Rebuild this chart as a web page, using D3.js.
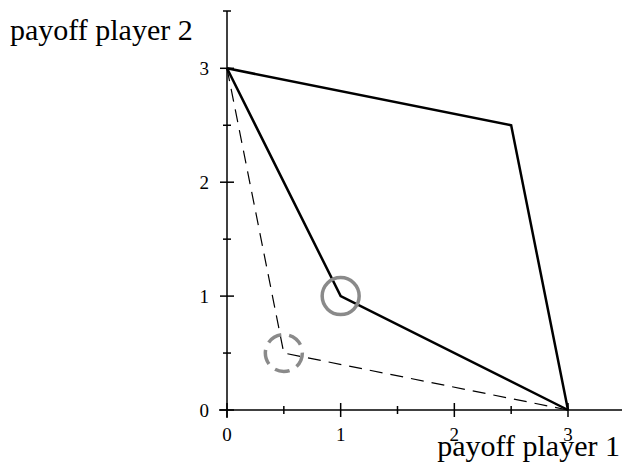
<!DOCTYPE html>
<html>
<head>
<style>
    body { margin: 0; background: #fff; }
    text { font-family: "Liberation Serif", "Times New Roman", serif; fill: #000; }
    .axis path, .axis line { stroke: #000; stroke-width: 1.5; }
    .solid { fill: none; stroke: #000; stroke-width: 2.5; stroke-linejoin: miter; }
    .dashed { fill: none; stroke: #000; stroke-width: 1.2; stroke-dasharray: 13 8; }
    .mark { fill: none; stroke: #8a8a8a; stroke-width: 3.5; }
</style>
</head>
<body>
<svg id="chart" width="622" height="468"></svg>
<script src="https://d3js.org/d3.v7.min.js"></script>
<script>
    // payoff points (player 1, player 2)
    let outerHull = [[0, 3], [2.5, 2.5], [3, 0]];
    let innerHull = [[0, 3], [1, 1], [3, 0]];
    let dashedHull = [[0, 3], [0.5, 0.5], [3, 0]];
    let solidMarks = [[1, 1]];
    let dashedMarks = [[0.5, 0.5]];
    let majorTicks = [0, 1, 2, 3];
    let minorTicks = [0.5, 1.5, 2.5];

    let svg = d3.select("#chart");
    let xScale = d3.scaleLinear().domain([0, 3]).range([227, 568]);
    let yScale = d3.scaleLinear().domain([0, 3]).range([410, 68.3]);

    // x axis
    let xg = svg.append("g").attr("class", "axis")
        .attr("transform", "translate(0," + yScale(0) + ")");
    xg.append("line").attr("x1", xScale(0) - 8).attr("x2", 622);
    xg.selectAll(".minor").data(minorTicks).enter().append("line")
        .attr("x1", d => xScale(d)).attr("x2", d => xScale(d))
        .attr("y1", -4).attr("y2", 4);
    xg.selectAll(".major").data(majorTicks).enter().append("line")
        .attr("x1", d => xScale(d)).attr("x2", d => xScale(d))
        .attr("y1", -7).attr("y2", 7);
    xg.selectAll(".lbl").data(majorTicks).enter().append("text")
        .attr("x", d => xScale(d)).attr("y", 31)
        .attr("text-anchor", "middle").attr("font-size", 19)
        .text(d => d);

    // y axis
    let yg = svg.append("g").attr("class", "axis")
        .attr("transform", "translate(" + xScale(0) + ",0)");
    yg.append("line").attr("y1", yScale(0) + 8).attr("y2", 11);
    yg.append("line").attr("x1", -4).attr("x2", 4).attr("y1", 11).attr("y2", 11);
    yg.selectAll(".minor").data(minorTicks).enter().append("line")
        .attr("y1", d => yScale(d)).attr("y2", d => yScale(d))
        .attr("x1", -4).attr("x2", 4);
    yg.selectAll(".major").data(majorTicks).enter().append("line")
        .attr("y1", d => yScale(d)).attr("y2", d => yScale(d))
        .attr("x1", -7).attr("x2", 7);
    yg.selectAll(".lbl").data(majorTicks).enter().append("text")
        .attr("x", -18).attr("y", d => yScale(d) + 7)
        .attr("text-anchor", "end").attr("font-size", 19)
        .text(d => d);

    let line = d3.line().x(d => xScale(d[0])).y(d => yScale(d[1]));
    svg.append("path").datum(dashedHull).attr("class", "dashed").attr("d", line);
    svg.append("path").datum(outerHull).attr("class", "solid").attr("d", line);
    svg.append("path").datum(innerHull).attr("class", "solid").attr("d", line);

    svg.selectAll(".smark").data(solidMarks).enter().append("circle")
        .attr("class", "mark")
        .attr("cx", d => xScale(d[0])).attr("cy", d => yScale(d[1])).attr("r", 18.5);
    svg.selectAll(".dmark").data(dashedMarks).enter().append("circle")
        .attr("class", "mark").attr("stroke-dasharray", "15 8")
        .attr("cx", d => xScale(d[0])).attr("cy", d => yScale(d[1])).attr("r", 18.5);

    // axis titles
    svg.append("text").attr("x", 10).attr("y", 40).attr("font-size", 30)
        .text("payoff player 2");
    svg.append("text").attr("x", 620).attr("y", 456).attr("font-size", 30)
        .attr("text-anchor", "end").text("payoff player 1");
</script>
</body>
</html>
